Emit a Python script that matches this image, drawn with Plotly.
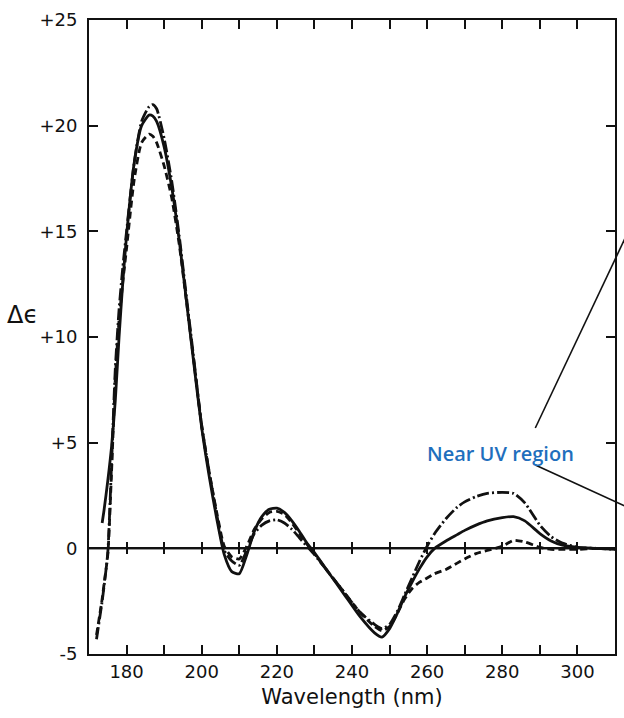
import plotly.graph_objects as go

# ---- data ----
wavelength = [172, 173.5, 174, 175, 176, 177, 178, 179, 180, 182, 184, 186, 187, 188, 190, 192,
              194, 196, 198, 200, 202, 204, 206, 208, 210, 212, 214, 216, 218, 220, 222, 224,
              226, 228, 230, 234, 238, 242, 246, 248, 250, 252, 254, 256, 258, 260, 262, 265,
              268, 270, 273, 276, 280, 283, 286, 290, 293, 296, 300, 305, 310]

solid = [None, 1.2, 1.8, 3.2, 4.8, 7.0, 10.0, 12.6, 14.8, 18.2, 20.0, 20.5, 20.45, 20.2, 19.0, 17.1,
         14.6, 11.6, 8.6, 5.7, 3.4, 1.4, -0.3, -1.1, -1.2, -0.3, 0.8, 1.5, 1.85, 1.9, 1.7, 1.3,
         0.8, 0.25, -0.2, -1.2, -2.2, -3.2, -4.0, -4.2, -3.8, -3.1, -2.3, -1.6, -0.95, -0.4, 0.0, 0.35,
         0.65, 0.85, 1.1, 1.3, 1.45, 1.5, 1.3, 0.7, 0.35, 0.15, 0.05, 0.0, -0.05]

dashed = [-4.1, -2.4, -1.7, -0.3, 3.6, 8.0, 10.8, 12.6, 14.2, 17.4, 19.2, 19.6, 19.5, 19.2, 18.1, 16.6,
          14.4, 11.6, 8.7, 5.8, 3.6, 1.7, 0.1, -0.4, -0.5, 0.1, 0.9, 1.4, 1.7, 1.75, 1.6, 1.2,
          0.7, 0.2, -0.25, -1.2, -2.1, -3.0, -3.7, -3.9, -3.7, -3.1, -2.4, -1.9, -1.6, -1.4, -1.2, -1.0,
          -0.7, -0.5, -0.25, -0.1, 0.1, 0.38, 0.3, 0.05, -0.05, -0.05, -0.05, 0.0, 0.0]

dashdot = [-4.3, -2.5, -1.8, -0.2, 4.0, 8.5, 11.3, 13.3, 15.0, 18.2, 20.2, 20.9, 21.0, 20.8, 19.4, 17.4,
           14.8, 11.8, 8.8, 5.8, 3.6, 1.6, -0.1, -0.6, -0.8, -0.1, 0.7, 1.1, 1.3, 1.35, 1.2, 0.9,
           0.5, 0.1, -0.3, -1.2, -2.1, -3.0, -3.6, -3.8, -3.6, -3.0, -2.2, -1.4, -0.6, 0.1, 0.7, 1.4,
           1.95, 2.2, 2.45, 2.6, 2.65, 2.6, 2.15, 1.1, 0.55, 0.25, 0.05, 0.0, -0.05]

x_tick_vals = [180, 190, 200, 210, 220, 230, 240, 250, 260, 270, 280, 290, 300]
x_tick_text = ["180", "", "200", "", "220", "", "240", "", "260", "", "280", "", "300"]
y_tick_vals = [-5, 0, 5, 10, 15, 20, 25]
y_tick_text = ["-5", "0", "+5", "+10", "+15", "+20", "+25"]
zero_line_x = [170, 310]
zero_line_y = [0, 0]

x_range = [170, 310]
y_range = [-5, 25]

FONT = "DejaVu Sans"
INK = "#111111"

fig = go.Figure()

for vals, dash in [(solid, "solid"), (dashed, "7px,4px"), (dashdot, "12px,3px,2px,3px")]:
    fig.add_trace(go.Scatter(
        x=wavelength, y=vals, mode="lines",
        line=dict(color=INK, width=2.8, dash=dash, shape="spline", smoothing=0.6),
        showlegend=False, hoverinfo="skip", connectgaps=False,
    ))

# zero line with tick marks on both sides
for ax in ["x2", "x3"]:
    fig.add_trace(go.Scatter(
        x=zero_line_x, y=zero_line_y, xaxis=ax, yaxis="y", mode="lines",
        line=dict(color=INK, width=2), showlegend=False, hoverinfo="skip",
    ))

axis_common = dict(showgrid=False, zeroline=False, showline=True, linecolor=INK, linewidth=2,
                   tickcolor=INK, tickwidth=2)

zero_pos = (0 - y_range[0]) / (y_range[1] - y_range[0])

fig.update_layout(
    width=624, height=718, autosize=False,
    margin=dict(l=89, r=7, t=20, b=64),
    paper_bgcolor="white", plot_bgcolor="white",
    xaxis=dict(range=x_range, tickvals=x_tick_vals, ticktext=x_tick_text,
               ticks="inside", ticklen=9, mirror="ticks",
               tickfont=dict(family=FONT, size=18, color=INK),
               title=dict(text="Wavelength (nm)", font=dict(family=FONT, size=21, color=INK), standoff=9),
               **axis_common),
    yaxis=dict(range=y_range, tickvals=y_tick_vals, ticktext=y_tick_text,
               ticks="inside", ticklen=9, mirror="ticks", ticklabelstandoff=6,
               tickfont=dict(family=FONT, size=18, color=INK),
               **axis_common),
    xaxis2=dict(range=x_range, overlaying="x", anchor="free", position=zero_pos, side="bottom",
                tickvals=x_tick_vals, showticklabels=False, ticks="outside", ticklen=5,
                **axis_common),
    xaxis3=dict(range=x_range, overlaying="x", anchor="free", position=zero_pos, side="bottom",
                tickvals=x_tick_vals, showticklabels=False, ticks="inside", ticklen=5,
                **axis_common),
)

fig.add_annotation(text="Δϵ", xref="paper", yref="paper", x=-0.127, y=0.535,
                   xanchor="center", yanchor="middle",
                   showarrow=False, font=dict(family=FONT, size=24, color=INK))

fig.add_annotation(text="Near UV region", xref="x", yref="y", x=279.5, y=4.5,
                   xanchor="center", yanchor="middle",
                   showarrow=False, font=dict(family="Open Sans", size=20, color="#1f6fbd", weight=600))

fig.add_shape(type="line", xref="paper", yref="paper", x0=0.8485, y0=0.3565, x1=1.0436, y1=0.6987,
              line=dict(color=INK, width=1.6))
fig.add_shape(type="line", xref="paper", yref="paper", x0=0.8485, y0=0.2981, x1=1.0436, y1=0.2240,
              line=dict(color=INK, width=1.6))

fig.write_html("out.html", config={"displayModeBar": False},
               post_script="document.body.style.margin='0';")
